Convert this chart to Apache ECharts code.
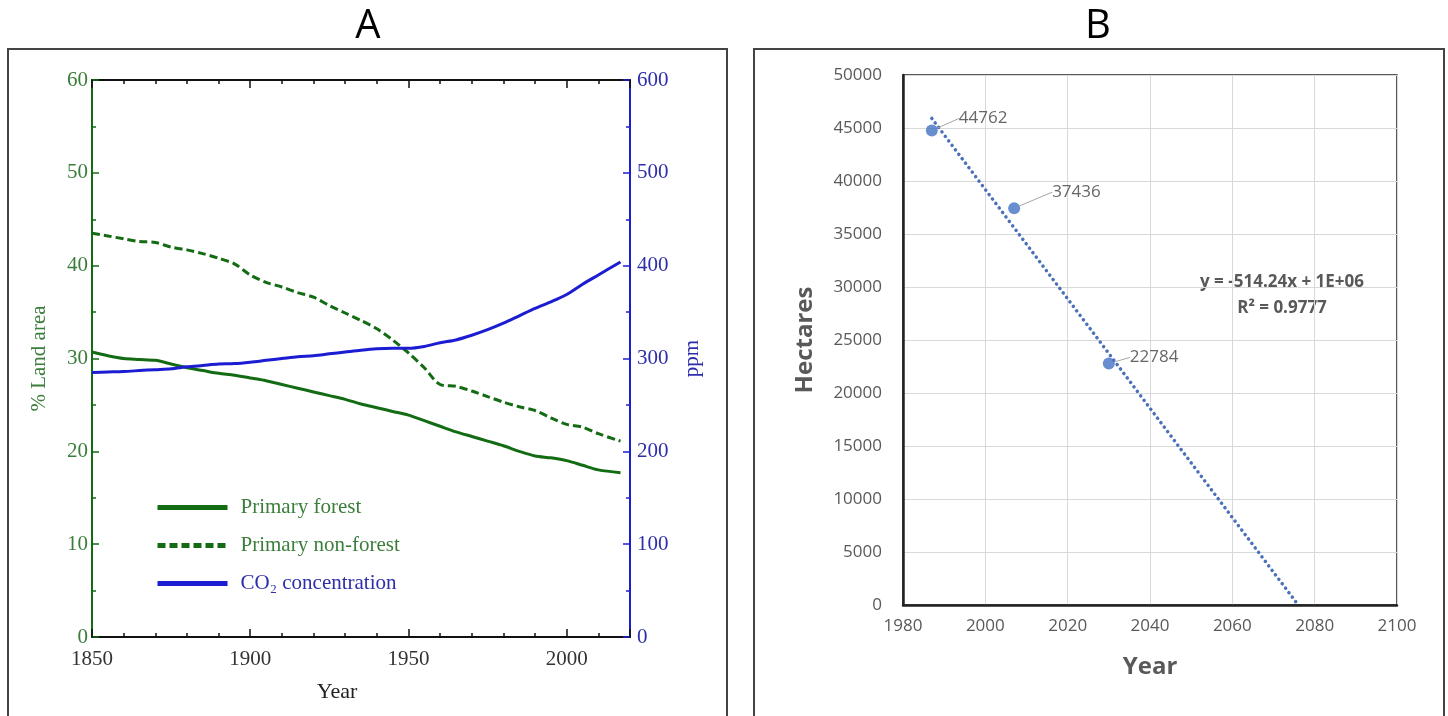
<!DOCTYPE html>
<html>
<head>
<meta charset="utf-8">
<script src="https://cdn.jsdelivr.net/npm/echarts@6/dist/echarts.min.js"></script>
<style>
html,body{margin:0;padding:0;background:#fff;}
#chart{width:1448px;height:716px;}
</style>
</head>
<body>
<div id="chart"></div>
<script>
// ---------- Panel A data ----------
const yearsA = [1850,1855,1860,1865,1870,1875,1880,1885,1890,1895,1900,1905,1910,1915,1920,1925,1930,1935,1940,1945,1950,1955,1960,1965,1970,1975,1980,1985,1990,1995,2000,2005,2010,2017];
const primaryForest = [30.7,30.3,30.0,29.9,29.8,29.4,29.0,28.7,28.4,28.2,27.9,27.6,27.2,26.8,26.4,26.0,25.6,25.1,24.7,24.3,23.9,23.3,22.7,22.1,21.6,21.1,20.6,20.0,19.5,19.3,19.0,18.5,18.0,17.7];
const primaryNonForest = [43.5,43.2,42.9,42.6,42.5,42.0,41.7,41.3,40.8,40.2,39.0,38.2,37.7,37.1,36.6,35.7,34.9,34.1,33.2,32.0,30.6,29.0,27.2,27.0,26.5,25.9,25.3,24.8,24.4,23.6,22.9,22.6,21.9,21.1];
const co2ppm = [285,285.5,286,287,288,289,291,292.5,294,294.5,296,298,300,302,303,305,307,309,310.5,311,311,313,317,320,325,331,338,346,354,361,369,380,390,404];
const seriesNamesA = ['Primary forest','Primary non-forest','CO\u2082 concentration'];

// ---------- Panel B data ----------
const yearsB = [1987, 2007, 2030];
const hectares = [44762, 37436, 22784];
const trendYears = [1987, 2076];
const trendValues = [45900, 0];
const equationText = 'y = -514.24x + 1E+06';
const r2Text = 'R\u00B2 = 0.9777';

const zip = (a, b) => a.map((v, i) => [v, b[i]]);

const GREEN = '#136b13';
const GREEN_TXT = '#3b7d3b';
const BLUE = '#1c1cd2';
const BLUE_TXT = '#2e2eaa';
const SERIF = '"Liberation Serif", "DejaVu Serif", serif';
const SANS = '"Open Sans", "Liberation Sans", sans-serif';
const GRAY = '#595959';

// label offsets for panel B (style, not data)
const labelShift = [[16, -12], [27, -16], [10, -6]];

const chart = echarts.init(document.getElementById('chart'), null, {renderer: 'canvas'});

const serifAxisLabel = (color, extra) => Object.assign({color: color, fontFamily: SERIF, fontSize: 21}, extra || {});

const option = {
  backgroundColor: '#fff',
  animation: false,
  grid: [
    {left: 92, right: 818, top: 80, bottom: 79, containLabel: false},
    {left: 903, right: 51, top: 75, bottom: 111, containLabel: false,
     show: true, borderColor: '#222', borderWidth: 1.5, backgroundColor: 'transparent'}
  ],
  legend: {
    show: true,
    orient: 'vertical',
    left: 155, top: 497,
    padding: 0,
    itemWidth: 70, itemHeight: 16, itemGap: 17,
    textStyle: {fontFamily: SERIF, fontSize: 21, padding: [0, 0, 0, 8]},
    lineStyle: {width: 5},
    itemStyle: {opacity: 0},
    data: [
      {name: seriesNamesA[0], textStyle: {color: GREEN_TXT}},
      {name: seriesNamesA[1], textStyle: {color: GREEN_TXT}},
      {name: seriesNamesA[2], textStyle: {color: BLUE_TXT}}
    ],
    selectedMode: false
  },
  xAxis: [
    {gridIndex: 0, type: 'value', position: 'bottom', min: 1850, max: 2020, interval: 10,
     axisLine: {show: true, lineStyle: {color: '#111', width: 2}},
     axisTick: {show: true, inside: true, length: 4, lineStyle: {color: '#111', width: 1.5}},
     axisLabel: serifAxisLabel('#333', {margin: 12, formatter: v => (v % 50 === 0 ? String(v) : '')}),
     splitLine: {show: false}},
    {gridIndex: 0, type: 'value', position: 'bottom', min: 1850, max: 2020, interval: 50,
     axisLine: {show: false},
     axisTick: {show: true, inside: true, length: 8, lineStyle: {color: '#111', width: 1.5}},
     axisLabel: {show: false}, splitLine: {show: false}},
    {gridIndex: 0, type: 'value', position: 'top', min: 1850, max: 2020, interval: 10,
     axisLine: {show: true, lineStyle: {color: '#111', width: 2}},
     axisTick: {show: true, inside: true, length: 4, lineStyle: {color: '#111', width: 1.5}},
     axisLabel: {show: false}, splitLine: {show: false}},
    {gridIndex: 0, type: 'value', position: 'top', min: 1850, max: 2020, interval: 50,
     axisLine: {show: false},
     axisTick: {show: true, inside: true, length: 8, lineStyle: {color: '#111', width: 1.5}},
     axisLabel: {show: false}, splitLine: {show: false}},
    {gridIndex: 1, type: 'value', min: 1980, max: 2100, interval: 20,
     name: 'Year', nameLocation: 'middle', nameGap: 50,
     nameTextStyle: {fontFamily: SANS, fontSize: 24, fontWeight: 'bold', color: GRAY},
     axisLine: {show: true, lineStyle: {color: '#222', width: 2.5}},
     axisTick: {show: false},
     axisLabel: {color: GRAY, fontFamily: SANS, fontSize: 17, margin: 13, formatter: v => String(v)},
     splitLine: {show: true, lineStyle: {color: '#d9d9d9', width: 1}}}
  ],
  yAxis: [
    {gridIndex: 0, type: 'value', position: 'left', min: 0, max: 60, interval: 10,
     name: '% Land area', nameLocation: 'middle', nameGap: 42, nameRotate: 90,
     nameTextStyle: {fontFamily: SERIF, fontSize: 21, color: GREEN_TXT},
     axisLine: {show: true, lineStyle: {color: GREEN, width: 2}},
     axisTick: {show: true, inside: true, length: 7, lineStyle: {color: GREEN, width: 1.5}},
     minorTick: {show: true, splitNumber: 2, length: 4, lineStyle: {color: GREEN, width: 1.5}},
     axisLabel: serifAxisLabel(GREEN_TXT, {margin: 4}),
     splitLine: {show: false}},
    {gridIndex: 0, type: 'value', position: 'right', min: 0, max: 600, interval: 100,
     name: 'ppm', nameLocation: 'middle', nameGap: 52, nameRotate: 90,
     nameTextStyle: {fontFamily: SERIF, fontSize: 21, color: BLUE_TXT},
     axisLine: {show: true, lineStyle: {color: BLUE, width: 2}},
     axisTick: {show: true, inside: true, length: 7, lineStyle: {color: BLUE, width: 1.5}},
     minorTick: {show: true, splitNumber: 2, length: 4, lineStyle: {color: BLUE, width: 1.5}},
     axisLabel: serifAxisLabel(BLUE_TXT, {margin: 7}),
     splitLine: {show: false}},
    {gridIndex: 1, type: 'value', min: 0, max: 50000, interval: 5000,
     name: 'Hectares', nameLocation: 'middle', nameGap: 86, nameRotate: 90,
     nameTextStyle: {fontFamily: SANS, fontSize: 24, fontWeight: 'bold', color: GRAY},
     axisLine: {show: true, lineStyle: {color: '#222', width: 2.5}},
     axisTick: {show: false},
     axisLabel: {color: GRAY, fontFamily: SANS, fontSize: 17, margin: 21, formatter: v => String(v)},
     splitLine: {show: true, lineStyle: {color: '#d9d9d9', width: 1}}}
  ],
  series: [
    {name: seriesNamesA[0], type: 'line', xAxisIndex: 0, yAxisIndex: 0,
     data: zip(yearsA, primaryForest), symbol: 'none', showSymbol: false, smooth: 0.3,
     lineStyle: {color: GREEN, width: 3}, itemStyle: {color: GREEN}},
    {name: seriesNamesA[1], type: 'line', xAxisIndex: 0, yAxisIndex: 0,
     data: zip(yearsA, primaryNonForest), symbol: 'none', showSymbol: false, smooth: 0.3,
     lineStyle: {color: GREEN, width: 3, type: [8, 4]}, itemStyle: {color: GREEN}},
    {name: seriesNamesA[2], type: 'line', xAxisIndex: 0, yAxisIndex: 1,
     data: zip(yearsA, co2ppm), symbol: 'none', showSymbol: false, smooth: 0.3,
     lineStyle: {color: BLUE, width: 3}, itemStyle: {color: BLUE}},
    {name: 'Linear trend', type: 'line', xAxisIndex: 4, yAxisIndex: 2,
     data: zip(trendYears, trendValues), symbol: 'none',
     lineStyle: {color: '#4a70b8', width: 3.5, type: [0.1, 5.5], cap: 'round'}, z: 3},
    {name: 'Hectares', type: 'scatter', xAxisIndex: 4, yAxisIndex: 2,
     data: zip(yearsB, hectares), symbolSize: 12,
     itemStyle: {color: '#4472c4'}, z: 4,
     label: {show: true, position: 'right', distance: 5, formatter: p => String(p.value[1]),
             color: '#404040', fontFamily: SANS, fontSize: 17},
     labelLine: {show: true, lineStyle: {color: '#a6a6a6', width: 1}},
     labelLayout: p => ({dx: labelShift[p.dataIndex][0], dy: labelShift[p.dataIndex][1]})}
  ],
  graphic: [
    {type: 'rect', shape: {x: 8, y: 49, width: 719, height: 700}, silent: true,
     style: {fill: 'none', stroke: '#444', lineWidth: 2}},
    {type: 'rect', shape: {x: 754, y: 49, width: 690, height: 700}, silent: true,
     style: {fill: 'none', stroke: '#444', lineWidth: 2}},
    {type: 'text', x: 368, y: 47, style: {text: 'A', fontFamily: SANS, fontSize: 40, fill: '#000', align: 'center', verticalAlign: 'bottom'}},
    {type: 'text', x: 1098, y: 47, style: {text: 'B', fontFamily: SANS, fontSize: 40, fill: '#000', align: 'center', verticalAlign: 'bottom'}},
    {type: 'text', x: 337, y: 692, style: {text: 'Year', fontFamily: SERIF, fontSize: 22, fill: '#222', align: 'center', verticalAlign: 'middle'}},
    {type: 'text', x: 1282, y: 282, style: {text: equationText, fontFamily: SANS, fontSize: 17, fontWeight: 'bold', fill: GRAY, align: 'center', verticalAlign: 'middle'}},
    {type: 'text', x: 1282, y: 308, style: {text: r2Text, fontFamily: SANS, fontSize: 17, fontWeight: 'bold', fill: GRAY, align: 'center', verticalAlign: 'middle'}}
  ]
};

chart.setOption(option);
</script>
</body>
</html>
